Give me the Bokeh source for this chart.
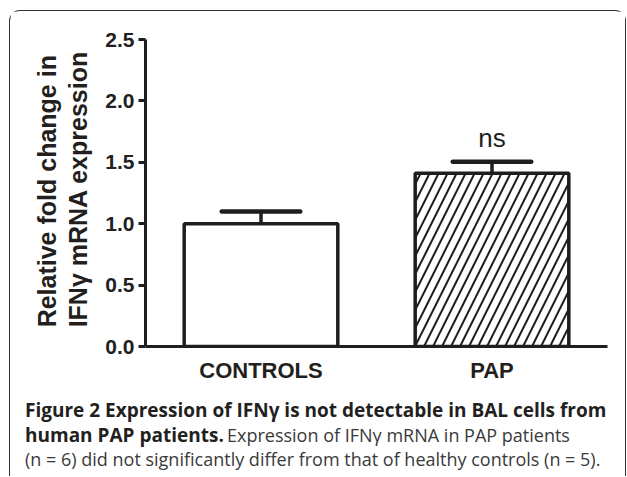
from math import pi
from bokeh.plotting import figure
from bokeh.layouts import column, row
from bokeh.models import (ColumnDataSource, Range1d, FixedTicker, Label,
                          PrintfTickFormatter)
from bokeh.core.properties import value
from bokeh.embed import file_html
from bokeh.resources import INLINE

# ---- data ----
categories = ["CONTROLS", "PAP"]
positions = [1, 3]
means = [1.0, 1.41]
sems = [0.1, 0.095]
hatches = [" ", "/"]
y_ticks = [0.0, 0.5, 1.0, 1.5, 2.0, 2.5]
y_label_lines = ["Relative fold change in", "IFNγ mRNA expression"]
annotation_text = "ns"
annotation_y = 1.70
caption_bold_1 = "Figure 2 Expression of IFNγ is not detectable in BAL cells from"
caption_bold_2 = "human PAP patients."
caption_reg_2 = "Expression of IFNγ mRNA in PAP patients"
caption_reg_3 = "(n = 6) did not significantly differ from that of healthy controls (n = 5)."

INK = "#1e1e1e"
TXT = "#231f20"
CAP_REG = "#3a3a3a"

# ---- layout (pixels, inside the rounded frame) ----
INNER_W = 615
TOP_H = 377
CAP_H = 88
YLAB_W = 90
CHART_W = INNER_W - YLAB_W


def blank(width, height):
    f = figure(width=width, height=height, output_backend="svg",
               toolbar_location=None, x_range=Range1d(0, width),
               y_range=Range1d(height, 0), min_border=0,
               x_axis_location=None, y_axis_location=None)
    f.grid.visible = False
    f.outline_line_color = None
    f.background_fill_color = "white"
    f.border_fill_color = "white"
    return f


# ---- main chart ----
p = figure(width=CHART_W, height=TOP_H, output_backend="svg",
           toolbar_location=None,
           x_range=Range1d(0, 4), y_range=Range1d(0, 2.5),
           min_border_left=45, min_border_right=18,
           min_border_top=28, min_border_bottom=42)
p.outline_line_color = None
p.grid.visible = False
p.background_fill_color = "white"
p.border_fill_color = "white"

xa = p.xaxis[0]
xa.ticker = FixedTicker(ticks=positions)
xa.major_label_overrides = {pos: cat for pos, cat in zip(positions, categories)}
xa.major_tick_line_color = None
xa.minor_tick_line_color = None
xa.axis_line_width = 3
xa.axis_line_color = INK
xa.major_label_text_font = "Liberation Sans"
xa.major_label_text_font_style = "bold"
xa.major_label_text_font_size = "22px"
xa.major_label_text_color = TXT
xa.major_label_standoff = 5

ya = p.yaxis[0]
ya.ticker = FixedTicker(ticks=y_ticks)
ya.formatter = PrintfTickFormatter(format="%.1f")
ya.minor_tick_line_color = None
ya.major_tick_in = 0
ya.major_tick_out = 7
ya.major_tick_line_width = 3
ya.major_tick_line_color = INK
ya.axis_line_width = 3
ya.axis_line_color = INK
ya.major_label_text_font = "Liberation Sans"
ya.major_label_text_font_style = "bold"
ya.major_label_text_font_size = "21px"
ya.major_label_text_color = TXT
ya.major_label_standoff = 4

src = ColumnDataSource(dict(
    x=positions, top=means,
    err_top=[m + s for m, s in zip(means, sems)],
    cap_x0=[x - 0.34 for x in positions],
    cap_x1=[x + 0.34 for x in positions],
    hatch=hatches, label=categories))
p.vbar(x="x", top="top", bottom=0, width=1.33, source=src,
       fill_color="white", line_color=INK, line_width=3.5,
       hatch_pattern="hatch", hatch_scale=18, hatch_weight=2,
       hatch_color=INK)
p.segment(x0="x", y0="top", x1="x", y1="err_top", source=src,
          line_color=INK, line_width=3.5)
p.segment(x0="cap_x0", y0="err_top", x1="cap_x1", y1="err_top", source=src,
          line_color=INK, line_width=4.5, line_cap="round")

p.add_layout(Label(x=positions[1], y=annotation_y, text=annotation_text,
                   text_font="Liberation Sans", text_font_size="26px",
                   text_color=TXT, text_align="center",
                   text_baseline="alphabetic"))

# ---- y axis title (two rotated lines) ----
yl = blank(YLAB_W, TOP_H)
yl.text(x=[36, 67.5], y=[353.5, 353.5], text=y_label_lines,
        angle=pi / 2, text_font=value("Liberation Sans"),
        text_font_style="bold", text_font_size="25px", text_color=TXT,
        text_align="left", text_baseline="alphabetic")

# ---- caption ----
cap = blank(INNER_W, CAP_H)
cap.text(x=[14.5, 14.5], y=[21, 46], text=[caption_bold_1, caption_bold_2],
         text_font=value("Open Sans"), text_font_style="bold",
         text_font_size="19px", text_color=TXT,
         text_align="left", text_baseline="alphabetic")
cap.text(x=[216.5, 14.5], y=[46, 70.5], text=[caption_reg_2, caption_reg_3],
         text_font=value("Open Sans"), text_font_style="normal",
         text_font_size="18px", text_color=CAP_REG,
         text_align="left", text_baseline="alphabetic")

layout = column(row(yl, p, spacing=0), cap, spacing=0, margin=(10, 0, 0, 9))
layout.styles = {"border-top": "1.5px solid #333333",
                 "border-left": "1.5px solid #333333",
                 "border-right": "1.5px solid #333333",
                 "border-top-left-radius": "11px",
                 "border-top-right-radius": "11px"}

open("out.html", "w").write(file_html(layout, INLINE))
